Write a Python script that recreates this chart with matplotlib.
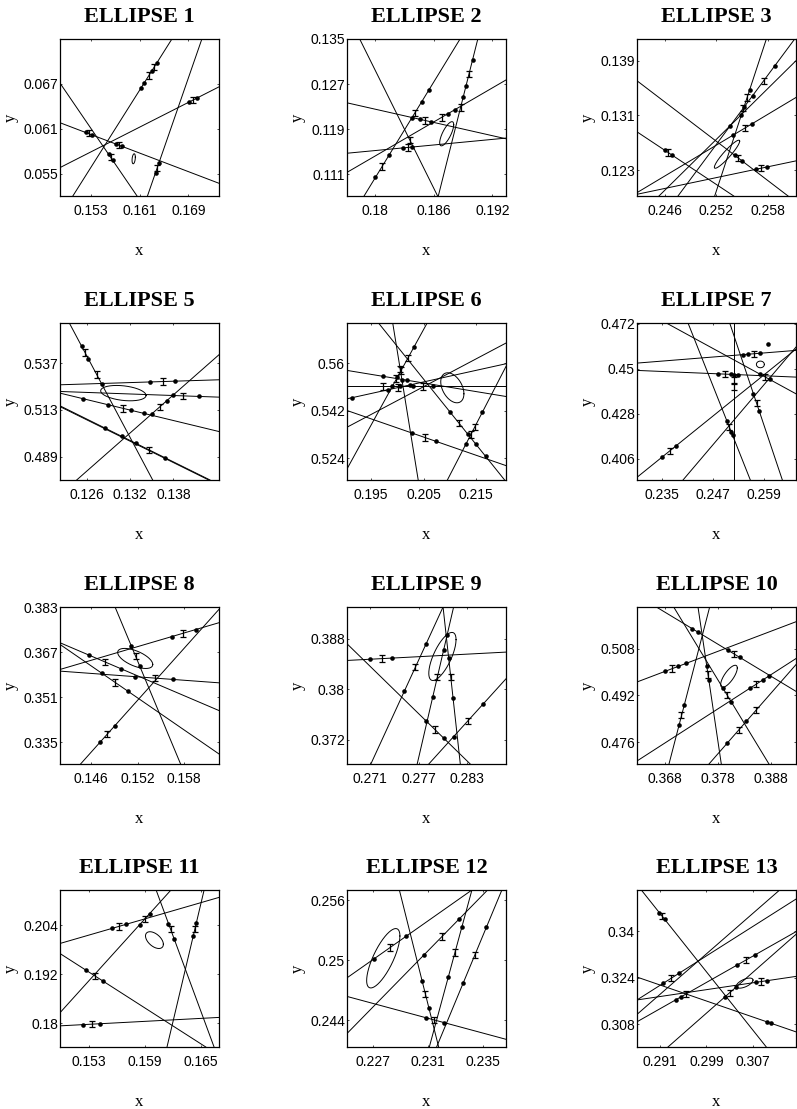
import numpy as np
import matplotlib
matplotlib.use("Agg")
import matplotlib.pyplot as plt

# ---------------- data ----------------
# Panel: ELLIPSE 1
P1_XLIM = (0.148, 0.174); P1_YLIM = (0.052, 0.073)
P1_XT = [0.153, 0.161, 0.169]; P1_YT = [0.055, 0.061, 0.067]
P1_LINES = [((0.148, 0.0671), (0.1606, 0.052)), ((0.148, 0.0618), (0.174, 0.0537)),
            ((0.148, 0.0558), (0.174, 0.0666)), ((0.1501, 0.052), (0.1663, 0.073)),
            ((0.1623, 0.052), (0.1712, 0.073))]
P1_DX = [0.1638, 0.1630, 0.1618, 0.1613, 0.16915, 0.1704, 0.15225, 0.1532, 0.15716, 0.15814, 0.15596, 0.15661, 0.16362, 0.16419]
P1_DY = [0.0698, 0.0687, 0.0671, 0.0665, 0.0646, 0.0651, 0.0605, 0.0602, 0.05895, 0.05864, 0.05756, 0.05678, 0.05511, 0.05645]
P1_EX = [0.1634, 0.1625, 0.1698, 0.1527, 0.1577, 0.15629, 0.1639]
P1_EY = [0.0693, 0.0681, 0.0648, 0.0604, 0.05878, 0.05717, 0.05578]
P1_ELL = (0.16005, 0.05698, 0.00027, 0.00067, 0.3)

# Panel: ELLIPSE 2
P2_XLIM = (0.1771, 0.1934); P2_YLIM = (0.1071, 0.135)
P2_XT = [0.18, 0.186, 0.192]; P2_YT = [0.111, 0.119, 0.127, 0.135]
P2_LINES = [((0.1784, 0.135), (0.18639, 0.1071)), ((0.1771, 0.12366), (0.1934, 0.11727)),
            ((0.1771, 0.1147), (0.1934, 0.11739)), ((0.1771, 0.1113), (0.1934, 0.12772)),
            ((0.17885, 0.1071), (0.18869, 0.135)), ((0.18646, 0.1071), (0.19051, 0.135))]
P2_DX = [0.18001, 0.18139, 0.18372, 0.18475, 0.18547, 0.18457, 0.18571, 0.18749, 0.18817, 0.18900, 0.18930, 0.18998, 0.18286, 0.18379]
P2_DY = [0.1104, 0.1143, 0.12091, 0.12383, 0.12587, 0.12073, 0.12028, 0.12176, 0.12245, 0.12473, 0.12664, 0.1313, 0.11565, 0.1158]
P2_EX = [0.1807, 0.18406, 0.18509, 0.1868, 0.18874, 0.18961, 0.18337, 0.18353]
P2_EY = [0.11234, 0.12187, 0.12053, 0.12107, 0.12282, 0.12879, 0.11573, 0.11709]
P2_ELL = (0.18732, 0.11816, 0.00072, 0.00215, 0.75)

# Panel: ELLIPSE 3
P3_XLIM = (0.24279, 0.26125); P3_YLIM = (0.11924, 0.14217)
P3_XT = [0.246, 0.252, 0.258]; P3_YT = [0.123, 0.131, 0.139]
P3_LINES = [((0.24279, 0.13607), (0.26033, 0.11924)), ((0.24279, 0.12861), (0.25402, 0.11924)),
            ((0.24279, 0.11949), (0.26125, 0.12437)), ((0.25181, 0.11924), (0.25781, 0.14217)),
            ((0.24755, 0.11924), (0.2611, 0.14217)), ((0.24279, 0.11973), (0.26125, 0.13363)),
            ((0.24534, 0.11924), (0.26125, 0.139))]
P3_DX = [0.246, 0.24689, 0.25413, 0.25502, 0.25657, 0.25789, 0.25586, 0.25522, 0.25491, 0.2588, 0.2562, 0.25361, 0.25618, 0.25394]
P3_DY = [0.12593, 0.12519, 0.12519, 0.12434, 0.12313, 0.12348, 0.13471, 0.13227, 0.1311, 0.13827, 0.13388, 0.12949, 0.12981, 0.12813]
P3_EX = [0.24639, 0.25452, 0.25723, 0.25558, 0.2575, 0.25513, 0.25529]
P3_EY = [0.12561, 0.12482, 0.12331, 0.13363, 0.13607, 0.13207, 0.12914]
P3_ELL = (0.25324, 0.12534, 0.00147, 0.00205, 0.93)

# Panel: ELLIPSE 5
P5_XLIM = (0.12231, 0.14432); P5_YLIM = (0.477, 0.55757)
P5_XT = [0.126, 0.132, 0.138]; P5_YT = [0.489, 0.513, 0.537]
P5_LINES = [((0.1236, 0.55757), (0.13514, 0.477)), ((0.12462, 0.477), (0.14432, 0.54129)),
            ((0.12231, 0.52586), (0.14432, 0.52843)), ((0.12231, 0.52243), (0.14432, 0.51952)),
            ((0.12231, 0.52158), (0.14432, 0.50187)), ((0.12231, 0.51506), (0.14308, 0.477)),
            ((0.12231, 0.51466), (0.14290, 0.477))]
P5_DX = [0.13477, 0.13823, 0.1416, 0.12554, 0.129, 0.13209, 0.13394, 0.135, 0.13708, 0.138, 0.12531, 0.12623, 0.12808, 0.12854, 0.13085, 0.13283, 0.13685]
P5_DY = [0.52732, 0.52773, 0.51988, 0.51869, 0.51559, 0.51283, 0.51117, 0.51087, 0.51766, 0.52066, 0.54563, 0.53921, 0.5263, 0.50364, 0.49941, 0.49578, 0.48841]
P5_EX = [0.13662, 0.13929, 0.13108, 0.13615, 0.12577, 0.12739, 0.13468]
P5_EY = [0.52754, 0.52018, 0.51373, 0.51462, 0.54242, 0.53111, 0.49239]
P5_ELL = (0.13108, 0.52158, 0.00314, 0.00394, -0.3)

# Panel: ELLIPSE 6
P6_XLIM = (0.19047, 0.22066); P6_YLIM = (0.51579, 0.57516)
P6_XT = [0.195, 0.205, 0.215]; P6_YT = [0.524, 0.542, 0.56]
P6_LINES = [((0.19047, 0.55116), (0.22066, 0.55116)), ((0.19047, 0.55723), (0.22066, 0.54737)),
            ((0.19047, 0.54649), (0.22066, 0.55975)), ((0.19047, 0.53575), (0.22066, 0.56758)),
            ((0.19047, 0.54207), (0.22066, 0.52123)), ((0.19047, 0.51997), (0.20569, 0.57516)),
            ((0.19915, 0.57516), (0.20399, 0.51579)), ((0.19645, 0.57516), (0.2204, 0.51579)),
            ((0.20953, 0.51579), (0.22066, 0.55874))]
P6_DX = [0.19896, 0.20053, 0.20292, 0.20683, 0.20005, 0.20319, 0.19739, 0.20179, 0.19141, 0.19833, 0.20242, 0.20273, 0.20745, 0.21005, 0.21336, 0.21489, 0.21678, 0.21307, 0.21618, 0.20092]
P6_DY = [0.55116, 0.55116, 0.55116, 0.55116, 0.5547, 0.56607, 0.55497, 0.55353, 0.5469, 0.54994, 0.55174, 0.53361, 0.53035, 0.54144, 0.53323, 0.52944, 0.52477, 0.52944, 0.54144, 0.55344]
P6_EX = [0.19726, 0.20494, 0.20075, 0.20207, 0.19978, 0.20022, 0.20525, 0.21173, 0.21398, 0.2147, 0.20056]
P6_EY = [0.55116, 0.55116, 0.55723, 0.56203, 0.55419, 0.55077, 0.53187, 0.53727, 0.53298, 0.53576, 0.55786]
P6_ELL = (0.21047, 0.55066, 0.0022, 0.00568, -0.4)

# Panel: ELLIPSE 7
P7_XLIM = (0.22902, 0.26655); P7_YLIM = (0.39562, 0.47237)
P7_XT = [0.235, 0.247, 0.259]; P7_YT = [0.406, 0.428, 0.45, 0.472]
P7_LINES = [((0.25192, 0.40), (0.25192, 0.46)), ((0.24106, 0.47237), (0.25577, 0.39562)),
            ((0.2509, 0.47237), (0.26333, 0.39562)), ((0.22902, 0.45277), (0.26655, 0.45898)),
            ((0.22902, 0.44919), (0.26655, 0.44592)), ((0.23594, 0.47237), (0.26655, 0.43775)),
            ((0.22902, 0.39693), (0.26655, 0.45963)), ((0.23988, 0.39562), (0.26655, 0.46061))]
P7_DX = [0.235, 0.23831, 0.25192, 0.24814, 0.25113, 0.25286, 0.2502, 0.25129, 0.25158, 0.25651, 0.25783, 0.25404, 0.25522, 0.25798, 0.25798, 0.26034, 0.26]
P7_DY = [0.40692, 0.41245, 0.44673, 0.44752, 0.44726, 0.44711, 0.42469, 0.41897, 0.4175, 0.43775, 0.42959, 0.45691, 0.45711, 0.45756, 0.44744, 0.44477, 0.46225]
P7_EX = [0.23673, 0.25192, 0.25192, 0.24971, 0.25082, 0.25725, 0.25656, 0.25916]
P7_EY = [0.40981, 0.44428, 0.44134, 0.44739, 0.42142, 0.43318, 0.45733, 0.44611]
P7_ELL = (0.25814, 0.45212, 0.00094, 0.00163, 0.0)

# Panel: ELLIPSE 8
P8_XLIM = (0.14197, 0.16254); P8_YLIM = (0.3273, 0.38276)
P8_XT = [0.146, 0.152, 0.158]; P8_YT = [0.335, 0.351, 0.367, 0.383]
P8_LINES = [((0.14913, 0.38276), (0.15757, 0.3273)), ((0.14463, 0.3273), (0.16254, 0.38217)),
            ((0.14197, 0.36084), (0.16254, 0.37743)), ((0.14197, 0.36025), (0.16254, 0.3561)),
            ((0.14197, 0.37032), (0.16254, 0.34626)), ((0.14197, 0.36972), (0.16254, 0.33086))]
P8_DX = [0.15641, 0.15954, 0.1457, 0.14986, 0.14741, 0.15071, 0.1517, 0.15663, 0.1512, 0.15228, 0.14718, 0.14907]
P8_DY = [0.37249, 0.37501, 0.36596, 0.36109, 0.35944, 0.3532, 0.35829, 0.35729, 0.36913, 0.36203, 0.33512, 0.34092]
P8_EX = [0.15783, 0.14784, 0.14913, 0.15427, 0.15174, 0.14811]
P8_EY = [0.37363, 0.36345, 0.35619, 0.35777, 0.36558, 0.33796]
P8_ELL = (0.1517, 0.36475, 0.00227, 0.00356, -0.6)

# Panel: ELLIPSE 9
P9_XLIM = (0.26812, 0.28785); P9_YLIM = (0.3682, 0.39302)
P9_XT = [0.271, 0.277, 0.283]; P9_YT = [0.372, 0.38, 0.388]
P9_LINES = [((0.26812, 0.38457), (0.28785, 0.38589)), ((0.26812, 0.38721), (0.28341, 0.3682)),
            ((0.27108, 0.3682), (0.28004, 0.39302)), ((0.28004, 0.39302), (0.28218, 0.3682)),
            ((0.27683, 0.3682), (0.28135, 0.39302)), ((0.27827, 0.3682), (0.28785, 0.38167))]
P9_DX = [0.271, 0.27367, 0.27524, 0.27791, 0.2779, 0.28012, 0.27875, 0.2801, 0.28053, 0.28073, 0.28128, 0.28135, 0.28497]
P9_DY = [0.38476, 0.38494, 0.37971, 0.38711, 0.37505, 0.37229, 0.37876, 0.38616, 0.38854, 0.38499, 0.37865, 0.37253, 0.37762]
P9_EX = [0.27244, 0.27661, 0.27901, 0.27933, 0.281, 0.28312]
P9_EY = [0.38486, 0.38351, 0.37367, 0.38193, 0.38193, 0.37502]
P9_ELL = (0.27996, 0.3852, 0.00169, 0.0038, 0.7)

# Panel: ELLIPSE 10
P10_XLIM = (0.36281, 0.39263); P10_YLIM = (0.46857, 0.52217)
P10_XT = [0.368, 0.378, 0.388]; P10_YT = [0.476, 0.492, 0.508]
P10_LINES = [((0.36281, 0.49657), (0.39263, 0.51714)), ((0.36644, 0.52217), (0.39263, 0.49337)),
             ((0.36969, 0.52217), (0.38756, 0.46857)), ((0.37425, 0.52217), (0.37862, 0.46857)),
             ((0.37644, 0.52217), (0.36881, 0.46857)), ((0.36281, 0.4696), (0.39263, 0.50457)),
             ((0.37631, 0.46857), (0.39263, 0.50251))]
P10_DX = [0.368, 0.3705, 0.37206, 0.37319, 0.37425, 0.37988, 0.38206, 0.3759, 0.37627, 0.37894, 0.3805, 0.37169, 0.37071, 0.38406, 0.38644, 0.38756, 0.37969, 0.38331]
P10_DY = [0.50015, 0.50187, 0.50295, 0.51475, 0.51358, 0.50739, 0.50499, 0.50194, 0.49737, 0.49442, 0.48974, 0.4888, 0.48194, 0.49452, 0.49731, 0.49862, 0.4756, 0.48313]
P10_EX = [0.36944, 0.38094, 0.37613, 0.37969, 0.37113, 0.38519, 0.38194, 0.38519]
P10_EY = [0.50114, 0.50622, 0.49909, 0.49217, 0.48537, 0.49584, 0.48028, 0.48704]
P10_ELL = (0.38006, 0.49851, 0.00156, 0.00377, 0.75)

# Panel: ELLIPSE 11
P11_XLIM = (0.14987, 0.16696); P11_YLIM = (0.17425, 0.21263)
P11_XT = [0.153, 0.159, 0.165]; P11_YT = [0.18, 0.192, 0.204]
P11_LINES = [((0.14987, 0.19956), (0.16696, 0.21082)), ((0.14987, 0.18263), (0.1618, 0.21263)),
             ((0.14987, 0.1971), (0.16554, 0.17425)), ((0.14987, 0.17942), (0.16696, 0.18148)),
             ((0.1602, 0.21263), (0.16643, 0.17425)), ((0.16137, 0.17425), (0.16536, 0.21263))]
P11_DX = [0.1555, 0.15699, 0.15842, 0.15949, 0.15265, 0.1545, 0.15236, 0.15414, 0.16153, 0.16216, 0.16419, 0.16453]
P11_DY = [0.20327, 0.20425, 0.20413, 0.20682, 0.19305, 0.19035, 0.17972, 0.17993, 0.20441, 0.20055, 0.20137, 0.20466]
P11_EX = [0.15621, 0.15896, 0.15361, 0.15326, 0.16176, 0.16436]
P11_EY = [0.20374, 0.20549, 0.19165, 0.17983, 0.20301, 0.20301]
P11_ELL = (0.16002, 0.20038, 0.00096, 0.00205, -0.5)

# Panel: ELLIPSE 12
P12_XLIM = (0.22513, 0.2367); P12_YLIM = (0.2413, 0.25701)
P12_XT = [0.227, 0.231, 0.235]; P12_YT = [0.244, 0.25, 0.256]
P12_LINES = [((0.22513, 0.24822), (0.23422, 0.25701)), ((0.22513, 0.24265), (0.23536, 0.25701)),
             ((0.22513, 0.24636), (0.2367, 0.24207)), ((0.22894, 0.25701), (0.2318, 0.2413)),
             ((0.23422, 0.25701), (0.23112, 0.2413)), ((0.23165, 0.2413), (0.2364, 0.25701))]
P12_DX = [0.22712, 0.22942, 0.23075, 0.2333, 0.2306, 0.23108, 0.23087, 0.2322, 0.23349, 0.23251, 0.23528, 0.23359]
P12_DY = [0.25014, 0.25237, 0.25054, 0.25412, 0.24788, 0.24525, 0.24423, 0.24374, 0.25329, 0.24832, 0.25329, 0.24771]
P12_EX = [0.22828, 0.23204, 0.23084, 0.23148, 0.23299, 0.23443]
P12_EY = [0.25127, 0.25235, 0.2466, 0.24401, 0.25076, 0.25049]
P12_ELL = (0.22777, 0.25018, 0.00121, 0.00297, 0.75)

# Panel: ELLIPSE 13
P13_XLIM = (0.28711, 0.31437); P13_YLIM = (0.30029, 0.35404)
P13_XT = [0.291, 0.299, 0.307]; P13_YT = [0.308, 0.324, 0.34]
P13_LINES = [((0.28785, 0.35404), (0.30928, 0.30029)), ((0.28711, 0.32423), (0.31437, 0.30547)),
             ((0.28711, 0.3164), (0.31437, 0.32446)), ((0.28711, 0.3164), (0.31437, 0.35093)),
             ((0.28711, 0.31145), (0.31157, 0.35404)), ((0.28711, 0.30892), (0.31437, 0.33977)),
             ((0.29242, 0.30029), (0.31437, 0.33885))]
P13_DX = [0.29092, 0.29184, 0.29157, 0.29431, 0.29385, 0.29471, 0.30425, 0.30728, 0.30757, 0.3094, 0.3094, 0.31014, 0.30214, 0.30402]
P13_DY = [0.34633, 0.34403, 0.32205, 0.32552, 0.31655, 0.31752, 0.32832, 0.33175, 0.32245, 0.32299, 0.30889, 0.30838, 0.31737, 0.32067]
P13_EX = [0.29138, 0.293, 0.29557, 0.30574, 0.30842, 0.303]
P13_EY = [0.34518, 0.32386, 0.31849, 0.33, 0.3227, 0.31888]
P13_ELL = (0.30557, 0.32216, 0.00143, 0.00173, 0.6)

TITLES = ["ELLIPSE 1", "ELLIPSE 2", "ELLIPSE 3", "ELLIPSE 5", "ELLIPSE 6", "ELLIPSE 7",
          "ELLIPSE 8", "ELLIPSE 9", "ELLIPSE 10", "ELLIPSE 11", "ELLIPSE 12", "ELLIPSE 13"]

PANELS = [
    (P1_XLIM, P1_YLIM, P1_XT, P1_YT, P1_LINES, P1_DX, P1_DY, P1_EX, P1_EY, P1_ELL),
    (P2_XLIM, P2_YLIM, P2_XT, P2_YT, P2_LINES, P2_DX, P2_DY, P2_EX, P2_EY, P2_ELL),
    (P3_XLIM, P3_YLIM, P3_XT, P3_YT, P3_LINES, P3_DX, P3_DY, P3_EX, P3_EY, P3_ELL),
    (P5_XLIM, P5_YLIM, P5_XT, P5_YT, P5_LINES, P5_DX, P5_DY, P5_EX, P5_EY, P5_ELL),
    (P6_XLIM, P6_YLIM, P6_XT, P6_YT, P6_LINES, P6_DX, P6_DY, P6_EX, P6_EY, P6_ELL),
    (P7_XLIM, P7_YLIM, P7_XT, P7_YT, P7_LINES, P7_DX, P7_DY, P7_EX, P7_EY, P7_ELL),
    (P8_XLIM, P8_YLIM, P8_XT, P8_YT, P8_LINES, P8_DX, P8_DY, P8_EX, P8_EY, P8_ELL),
    (P9_XLIM, P9_YLIM, P9_XT, P9_YT, P9_LINES, P9_DX, P9_DY, P9_EX, P9_EY, P9_ELL),
    (P10_XLIM, P10_YLIM, P10_XT, P10_YT, P10_LINES, P10_DX, P10_DY, P10_EX, P10_EY, P10_ELL),
    (P11_XLIM, P11_YLIM, P11_XT, P11_YT, P11_LINES, P11_DX, P11_DY, P11_EX, P11_EY, P11_ELL),
    (P12_XLIM, P12_YLIM, P12_XT, P12_YT, P12_LINES, P12_DX, P12_DY, P12_EX, P12_EY, P12_ELL),
    (P13_XLIM, P13_YLIM, P13_XT, P13_YT, P13_LINES, P13_DX, P13_DY, P13_EX, P13_EY, P13_ELL),
]

# ---------------- layout / style ----------------
W, H = 797, 1109
COL_LEFT = [60, 347, 637]
ROW_TOP = [39, 323, 607, 890]
AX_W, AX_H = 159, 157
ERR_FRAC = 0.02          # half-height of the small error bars, as a fraction of the y span

SERIF = "Liberation Serif"
SANS = "Liberation Sans"

fig = plt.figure(figsize=(W / 100, H / 100), dpi=100)
fig.patch.set_facecolor("white")

t = np.linspace(0, 2 * np.pi, 300)
for i, (title, panel) in enumerate(zip(TITLES, PANELS)):
    xlim, ylim, xt, yt, lines, dx, dy, ex, ey, ell = panel
    r, c = divmod(i, 3)
    ax = fig.add_axes([COL_LEFT[c] / W, 1 - (ROW_TOP[r] + AX_H) / H, AX_W / W, AX_H / H])
    ax.set_xlim(xlim)
    ax.set_ylim(ylim)
    ax.set_autoscale_on(False)
    for p1, p2 in lines:
        ax.axline(p1, p2, color="black", lw=0.7)
    ax.plot(dx, dy, "o", color="black", ms=3.3, mew=0)
    ax.errorbar(ex, ey, yerr=ERR_FRAC * (ylim[1] - ylim[0]), fmt="none", ecolor="black",
                elinewidth=0.9, capsize=2.2, capthick=0.9)
    cx, cy, rx, ry, rho = ell
    ax.plot(cx + rx * np.cos(t), cy + ry * np.cos(t - np.arccos(rho)), color="black", lw=0.7)

    ax.set_xticks(xt)
    ax.set_yticks(yt)
    ax.set_xticklabels([f"{v:g}" for v in xt], fontfamily=SANS, fontsize=10)
    ax.set_yticklabels([f"{v:g}" for v in yt], fontfamily=SANS, fontsize=10)
    ax.tick_params(direction="in", length=1.5, width=0.5, top=True, right=True)
    ax.tick_params(axis="x", pad=6)
    ax.tick_params(axis="y", pad=1.5)
    for s in ax.spines.values():
        s.set_linewidth(0.9)

    ax.set_title(title, fontfamily=SERIF, fontweight="bold", fontsize=16, pad=12)
    ax.set_xlabel("x", fontfamily=SERIF, fontsize=12)
    ax.xaxis.set_label_coords(0.5, -55 / AX_H)
    ax.xaxis.label.set_va("center")
    ax.set_ylabel("y", fontfamily=SERIF, fontsize=12)
    ax.yaxis.set_label_coords(-49 / AX_W, 0.5)
    ax.yaxis.label.set_va("center")

fig.savefig("out.png", dpi=100, facecolor="white")
